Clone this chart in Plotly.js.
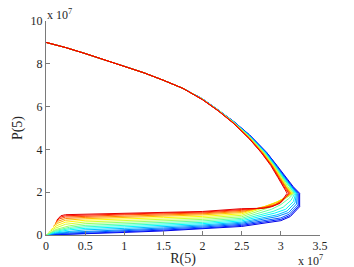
<!DOCTYPE html>
<html>
<head>
<meta charset="utf-8">
<script src="https://cdn.plot.ly/plotly-3.0.1.min.js"></script>
<style>html,body{margin:0;padding:0;background:#fff;}#chart{width:354px;height:267px;}</style>
</head>
<body>
<div id="chart"></div>
<script>
// Values in units of 1e7
// Shared upper branch (all runs start at R=0, P=9e7)
var upperR = [0, 0.25, 0.5, 0.75, 1.0, 1.25, 1.5, 1.75];
var upperP = [9.0, 8.76, 8.48, 8.19, 7.9, 7.58, 7.23, 6.85];

// Per-run remaining trajectory (index 0 = blue ... 15 = red)
var runR = [
  [2.0,2.2,2.4,2.6,2.82,2.95,3.06,3.16,3.24,3.24,3.12,3.00,2.5,2.0,1.5,1.0,0.5,0.3,0.12,0],
  [2.0,2.2,2.4,2.6,2.82,2.94,3.05,3.15,3.23,3.23,3.12,3.00,2.5,2.0,1.5,1.0,0.5,0.3,0.12,0],
  [2.0,2.2,2.4,2.6,2.81,2.94,3.05,3.14,3.22,3.22,3.11,3.00,2.5,2.0,1.5,1.0,0.5,0.3,0.12,0],
  [2.0,2.2,2.4,2.6,2.81,2.93,3.04,3.13,3.21,3.20,3.10,2.95,2.5,2.0,1.5,1.0,0.5,0.3,0.12,0],
  [2.0,2.2,2.4,2.6,2.80,2.93,3.03,3.13,3.20,3.18,3.08,2.95,2.5,2.0,1.5,1.0,0.5,0.3,0.12,0],
  [2.0,2.2,2.4,2.6,2.80,2.92,3.03,3.12,3.19,3.16,3.06,2.92,2.5,2.0,1.5,1.0,0.5,0.3,0.12,0],
  [2.0,2.2,2.4,2.6,2.79,2.92,3.02,3.11,3.18,3.13,3.03,2.90,2.5,2.0,1.5,1.0,0.5,0.3,0.12,0],
  [2.0,2.2,2.4,2.6,2.79,2.91,3.01,3.10,3.17,3.10,3.00,2.88,2.5,2.0,1.5,1.0,0.5,0.3,0.12,0],
  [2.0,2.2,2.4,2.6,2.78,2.91,3.01,3.09,3.16,3.08,2.98,2.85,2.5,2.0,1.5,1.0,0.5,0.3,0.12,0],
  [2.0,2.2,2.4,2.6,2.78,2.90,3.00,3.08,3.15,3.06,2.96,2.82,2.5,2.0,1.5,1.0,0.5,0.25,0.12,0.03],
  [2.0,2.2,2.4,2.6,2.77,2.90,2.99,3.07,3.14,3.05,2.95,2.80,2.5,2.0,1.5,1.0,0.5,0.25,0.14,0.06],
  [2.0,2.2,2.4,2.6,2.77,2.89,2.99,3.06,3.13,3.04,2.95,2.80,2.5,2.0,1.5,1.0,0.5,0.25,0.15,0.09],
  [2.0,2.2,2.4,2.6,2.76,2.89,2.98,3.06,3.12,3.03,2.94,2.80,2.5,2.0,1.5,1.0,0.5,0.25,0.16,0.11],
  [2.0,2.2,2.4,2.6,2.76,2.88,2.97,3.05,3.11,3.02,2.92,2.78,2.5,2.0,1.5,1.0,0.5,0.25,0.17,0.12],
  [2.0,2.2,2.4,2.6,2.75,2.88,2.97,3.04,3.10,3.01,2.90,2.78,2.5,2.0,1.5,1.0,0.5,0.25,0.18,0.13],
  [2.0,2.2,2.4,2.6,2.75,2.87,2.96,3.03,3.08,2.99,2.88,2.78,2.5,2.0,1.5,1.0,0.5,0.25,0.19,0.14]
];
var runP = [
  [6.36,5.85,5.30,4.68,3.85,3.25,2.7,2.25,1.95,1.32,0.86,0.67,0.40,0.28,0.19,0.12,0.05,0.03,0.01,0],
  [6.36,5.85,5.29,4.67,3.85,3.25,2.7,2.25,1.95,1.36,0.92,0.73,0.45,0.32,0.23,0.16,0.09,0.06,0.03,0],
  [6.35,5.84,5.29,4.65,3.85,3.25,2.7,2.25,1.95,1.40,0.98,0.80,0.50,0.37,0.28,0.21,0.13,0.09,0.05,0],
  [6.35,5.84,5.28,4.64,3.85,3.25,2.7,2.25,1.95,1.45,1.05,0.86,0.55,0.42,0.33,0.26,0.18,0.13,0.07,0],
  [6.35,5.84,5.27,4.63,3.85,3.25,2.7,2.25,1.95,1.50,1.12,0.94,0.60,0.47,0.38,0.31,0.24,0.18,0.10,0],
  [6.35,5.83,5.27,4.61,3.85,3.25,2.7,2.25,1.95,1.56,1.20,1.02,0.66,0.53,0.44,0.38,0.31,0.24,0.13,0],
  [6.34,5.83,5.26,4.60,3.85,3.25,2.7,2.25,1.95,1.62,1.30,1.10,0.72,0.59,0.51,0.45,0.38,0.30,0.17,0],
  [6.34,5.83,5.25,4.59,3.85,3.25,2.7,2.25,1.95,1.70,1.42,1.20,0.78,0.66,0.58,0.52,0.45,0.36,0.21,0],
  [6.34,5.82,5.25,4.57,3.85,3.25,2.7,2.25,1.95,1.75,1.52,1.28,0.85,0.73,0.66,0.60,0.53,0.43,0.25,0],
  [6.34,5.82,5.24,4.56,3.85,3.25,2.7,2.25,1.95,1.76,1.56,1.33,0.92,0.80,0.74,0.68,0.61,0.50,0.32,0.12],
  [6.33,5.82,5.23,4.55,3.85,3.25,2.7,2.25,1.95,1.74,1.55,1.34,0.99,0.87,0.81,0.76,0.69,0.60,0.44,0.24],
  [6.33,5.81,5.23,4.53,3.85,3.25,2.7,2.25,1.95,1.70,1.52,1.34,1.05,0.94,0.88,0.83,0.76,0.69,0.55,0.40],
  [6.33,5.81,5.22,4.52,3.85,3.25,2.7,2.25,1.95,1.65,1.45,1.30,1.10,0.99,0.94,0.89,0.82,0.77,0.65,0.50],
  [6.33,5.81,5.21,4.51,3.85,3.25,2.7,2.25,1.95,1.60,1.40,1.28,1.15,1.03,0.99,0.94,0.87,0.84,0.75,0.58],
  [6.32,5.80,5.21,4.49,3.85,3.25,2.7,2.25,1.95,1.55,1.35,1.26,1.19,1.07,1.03,0.98,0.92,0.90,0.83,0.65],
  [6.32,5.80,5.20,4.48,3.85,3.25,2.7,2.25,1.95,1.48,1.32,1.25,1.23,1.10,1.06,1.01,0.96,0.95,0.90,0.70]
];
var runColors = ['#0000e6','#001dff','#0053ff','#008aff','#00c0ff','#00f7ff','#2effd1','#64ff9b',
                 '#9bff64','#d1ff2e','#fff700','#ffc000','#ff8a00','#ff5300','#ff1d00','#e60000'];

var xTicks = [0, 0.5, 1, 1.5, 2, 2.5, 3, 3.5];
var xTickText = ['0','0.5','1','1.5','2','2.5','3','3.5'];
var yTicks = [0, 2, 4, 6, 8, 10];
var yTickText = ['0','2','4','6','8','10'];

var traces = [];
for (var i = 0; i < runR.length; i++) {
  traces.push({
    type: 'scatter', mode: 'lines',
    x: upperR.concat(runR[i]), y: upperP.concat(runP[i]),
    line: {color: runColors[i], width: 1},
    hoverinfo: 'skip', showlegend: false
  });
}

var axisColor = '#7a7a7a';
var serif = '"Liberation Serif", "Times New Roman", Times, "DejaVu Serif", serif';
var fnt = {family: serif, size: 12, color: '#262626'};
var layout = {
  width: 354, height: 267,
  margin: {l: 46, r: 34, t: 21, b: 32, pad: 0},
  paper_bgcolor: '#fff', plot_bgcolor: '#fff',
  showlegend: false,
  font: fnt,
  xaxis: {
    range: [0, 3.5], tickvals: xTicks, ticktext: xTickText,
    showline: true, linecolor: axisColor, linewidth: 1, mirror: false,
    ticks: 'inside', ticklen: 4, tickcolor: axisColor, tickwidth: 1,
    showgrid: false, zeroline: false, tickfont: fnt, automargin: false,
    title: {text: 'R(5)', font: {family: serif, size: 14, color: '#262626'}, standoff: 1}
  },
  yaxis: {
    range: [0, 10], tickvals: yTicks, ticktext: yTickText,
    showline: true, linecolor: axisColor, linewidth: 1, mirror: false,
    ticks: 'inside', ticklen: 4, tickcolor: axisColor, tickwidth: 1,
    showgrid: false, zeroline: false, tickfont: fnt, automargin: false,
    title: {text: 'P(5)', font: {family: serif, size: 14, color: '#262626'}, standoff: 4}
  },
  annotations: [
    {xref: 'paper', yref: 'paper', x: 0, y: 1, xanchor: 'left', yanchor: 'bottom',
     text: 'x 10<sup>7</sup>', showarrow: false, font: fnt, xshift: -1, yshift: -3},
    {xref: 'paper', yref: 'paper', x: 1, y: 0, xanchor: 'center', yanchor: 'top',
     text: 'x 10<sup>7</sup>', showarrow: false, font: fnt, xshift: -10, yshift: -16}
  ]
};
Plotly.newPlot('chart', traces, layout, {staticPlot: true, displayModeBar: false});
</script>
</body>
</html>
